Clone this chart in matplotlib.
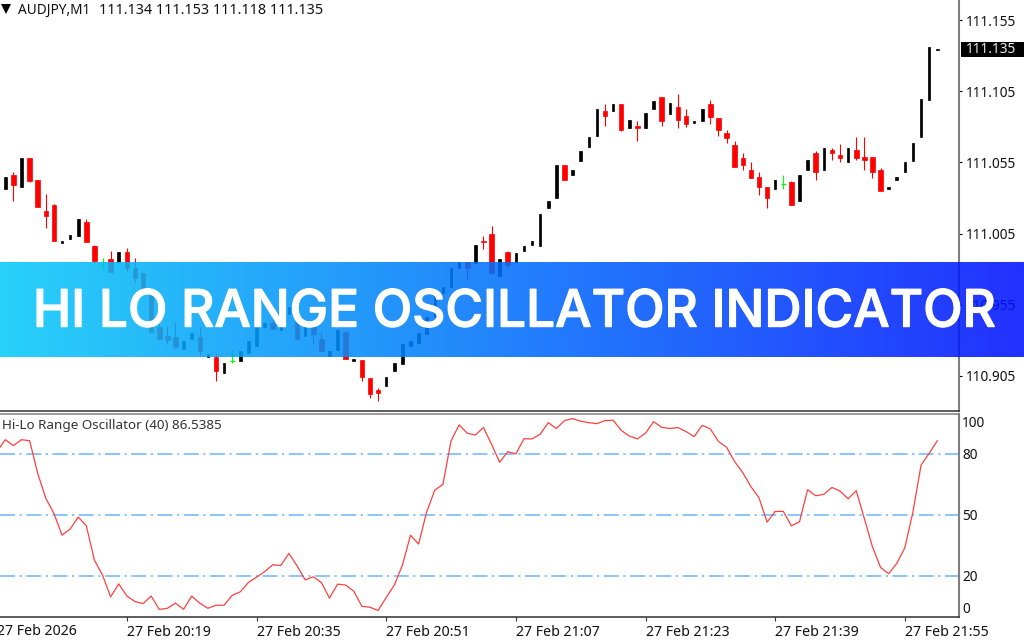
import numpy as np
import matplotlib
matplotlib.use("Agg")
import matplotlib.pyplot as plt
from matplotlib.patches import Rectangle
import matplotlib.patheffects as pe

W, H = 1024, 640
plt.rcParams['font.family'] = ['Noto Sans', 'DejaVu Sans']

# candles (AUDJPY M1)
opens = [
    111.036, 111.046, 111.038, 111.058, 111.043, 111.021, 111.025, 110.998, 111.001, 111.003,
    111.013, 110.996, 110.983, 110.987, 110.985, 110.992, 110.981, 110.977, 110.965, 110.939,
    110.933, 110.932, 110.924, 110.931, 110.932, 110.918, 110.918, 110.907, 110.915, 110.915,
    110.921, 110.926, 110.939, 110.942, 110.937, 110.948, 110.948, 110.933, 110.939, 110.931,
    110.919, 110.923, 110.936, 110.915, 110.916, 110.903, 110.895, 110.898, 110.908, 110.913,
    110.926, 110.928, 110.934, 110.946, 110.963, 110.967, 110.981, 110.985, 110.984, 111.000,
    111.005, 110.975, 110.992, 110.985, 110.993, 110.997, 110.996, 111.023, 111.030, 111.053,
    111.046, 111.056, 111.066, 111.074, 111.091, 111.091, 111.096, 111.079, 111.081, 111.079,
    111.093, 111.101, 111.089, 111.094, 111.088, 111.083, 111.084, 111.096, 111.086, 111.076,
    111.067, 111.058, 111.050, 111.045, 111.038, 111.036, 111.040, 111.041, 111.028, 111.050,
    111.062, 111.050, 111.064, 111.060, 111.055, 111.064, 111.059, 111.059, 111.050, 111.036,
    111.043, 111.048, 111.056, 111.073, 111.099, 111.134,
]
highs = [
    111.045, 111.048, 111.058, 111.058, 111.043, 111.033, 111.026, 111.000, 111.004, 111.015,
    111.015, 110.997, 110.988, 110.993, 110.992, 110.995, 110.988, 110.977, 110.965, 110.942,
    110.940, 110.943, 110.929, 110.935, 110.939, 110.920, 110.920, 110.914, 110.924, 110.922,
    110.929, 110.939, 110.942, 110.949, 110.943, 110.953, 110.949, 110.940, 110.939, 110.936,
    110.922, 110.937, 110.936, 110.917, 110.916, 110.903, 110.896, 110.904, 110.914, 110.927,
    110.929, 110.935, 110.946, 110.964, 110.967, 110.981, 110.985, 110.985, 110.997, 111.003,
    111.010, 110.987, 110.993, 110.991, 110.996, 111.000, 111.019, 111.028, 111.053, 111.053,
    111.050, 111.063, 111.073, 111.093, 111.096, 111.096, 111.096, 111.085, 111.084, 111.090,
    111.098, 111.101, 111.097, 111.103, 111.093, 111.084, 111.093, 111.099, 111.086, 111.078,
    111.070, 111.062, 111.055, 111.048, 111.038, 111.043, 111.046, 111.042, 111.046, 111.057,
    111.063, 111.065, 111.065, 111.068, 111.065, 111.073, 111.073, 111.059, 111.051, 111.038,
    111.045, 111.055, 111.069, 111.100, 111.136, 111.135,
]
lows = [
    111.036, 111.028, 111.038, 111.041, 111.024, 111.009, 111.000, 110.998, 111.001, 111.003,
    110.999, 110.984, 110.979, 110.978, 110.985, 110.978, 110.971, 110.965, 110.936, 110.931,
    110.927, 110.924, 110.924, 110.931, 110.919, 110.918, 110.901, 110.907, 110.914, 110.915,
    110.921, 110.926, 110.939, 110.938, 110.937, 110.948, 110.931, 110.933, 110.927, 110.922,
    110.919, 110.923, 110.917, 110.915, 110.901, 110.889, 110.887, 110.898, 110.908, 110.913,
    110.926, 110.928, 110.934, 110.946, 110.963, 110.967, 110.981, 110.972, 110.984, 110.994,
    110.977, 110.975, 110.981, 110.985, 110.993, 110.997, 110.996, 111.023, 111.030, 111.043,
    111.046, 111.056, 111.066, 111.074, 111.081, 111.091, 111.077, 111.079, 111.070, 111.079,
    111.093, 111.081, 111.089, 111.079, 111.080, 111.083, 111.084, 111.082, 111.074, 111.069,
    111.052, 111.050, 111.044, 111.032, 111.023, 111.036, 111.036, 111.025, 111.028, 111.050,
    111.043, 111.050, 111.057, 111.055, 111.055, 111.057, 111.050, 111.044, 111.035, 111.036,
    111.043, 111.048, 111.056, 111.073, 111.099, 111.134,
]
closes = [
    111.045, 111.039, 111.058, 111.042, 111.024, 111.017, 111.000, 111.000, 111.004, 111.015,
    110.999, 110.986, 110.983, 110.978, 110.992, 110.981, 110.974, 110.965, 110.936, 110.931,
    110.930, 110.925, 110.929, 110.935, 110.922, 110.920, 110.908, 110.914, 110.915, 110.922,
    110.929, 110.939, 110.942, 110.938, 110.943, 110.953, 110.931, 110.940, 110.934, 110.922,
    110.922, 110.937, 110.917, 110.917, 110.904, 110.892, 110.893, 110.904, 110.914, 110.927,
    110.929, 110.935, 110.946, 110.964, 110.967, 110.981, 110.985, 110.981, 110.997, 110.999,
    110.977, 110.987, 110.983, 110.991, 110.996, 111.000, 111.019, 111.028, 111.053, 111.043,
    111.050, 111.063, 111.073, 111.093, 111.088, 111.096, 111.078, 111.085, 111.079, 111.090,
    111.098, 111.084, 111.097, 111.085, 111.082, 111.084, 111.093, 111.087, 111.078, 111.072,
    111.052, 111.053, 111.044, 111.038, 111.030, 111.043, 111.040, 111.025, 111.046, 111.057,
    111.048, 111.065, 111.062, 111.058, 111.065, 111.058, 111.057, 111.048, 111.035, 111.038,
    111.045, 111.055, 111.069, 111.100, 111.136, 111.135,
]

# oscillator, one bar more than the candles because it starts left of the window
osc_values = [
    81.4,
    87.1, 84.2, 87.1, 86.6, 70.5, 58.2, 50.8, 40.1, 43.1, 49.0,
    44.7, 27.8, 20.4, 9.7, 16.1, 10.1, 7.4, 6.4, 10.1, 3.5,
    4.1, 6.6, 3.6, 10.1, 6.6, 4.1, 5.6, 5.6, 10.5, 12.2,
    16.8, 19.4, 22.1, 25.5, 25.2, 31.1, 25.0, 18.1, 19.6, 16.8,
    9.1, 16.0, 15.5, 12.5, 5.1, 4.6, 3.0, 9.4, 15.5, 25.3,
    40.1, 35.7, 51.6, 62.3, 65.1, 86.5, 94.4, 90.3, 89.4, 93.1,
    84.8, 76.0, 81.2, 80.1, 87.6, 87.5, 89.8, 95.5, 92.6, 96.5,
    97.5, 96.2, 95.5, 95.0, 96.5, 96.7, 91.7, 88.9, 87.5, 90.3,
    96.0, 93.2, 92.6, 93.1, 91.1, 88.6, 94.2, 92.4, 86.2, 83.4,
    76.3, 70.9, 64.0, 58.5, 46.5, 51.8, 51.8, 44.7, 46.7, 62.5,
    59.5, 60.2, 63.6, 61.8, 58.0, 62.0, 48.3, 34.4, 24.2, 21.1,
    26.2, 33.9, 51.6, 74.6, 80.4, 86.5385,
]

levels = [20, 50, 80]
price_ticks = [110.905, 110.955, 111.005, 111.055, 111.105, 111.155]
last_price = 111.135
time_ticks = [15, 31, 47, 63, 79, 95, 111]
time_labels = ['27 Feb 20:19', '27 Feb 20:35', '27 Feb 20:51', '27 Feb 21:07',
               '27 Feb 21:23', '27 Feb 21:39', '27 Feb 21:55']
# the scale labels 100 and 0 sit inside the pane, the others on their levels
scale_pos = [95.4, 80, 50, 20, 4.1]
scale_labels = ['100', '80', '50', '20', '0']
chart_title_sym = 'AUDJPY,M1'
chart_title_ohlc = '111.134 111.153 111.118 111.135'
osc_title = 'Hi-Lo Range Oscillator (40) 86.5385'
banner_text = 'HI LO RANGE OSCILLATOR INDICATOR'
banner_stops = [(6, 203, 249), (0, 110, 252), (0, 17, 255)]

TEXT = '#111111'
FS = 9.8


def px_axes(fig, x0, y0, x1, y1):
    # axes box from pixel corners, y counted from the top of the picture
    return fig.add_axes([x0 / W, 1 - y1 / H, (x1 - x0) / W, (y1 - y0) / H])


fig = plt.figure(figsize=(W / 100, H / 100), dpi=100, facecolor='white')
ax = px_axes(fig, 0, 0, 959, 410.5)
ax2 = px_axes(fig, 0, 413.5, 959, 616.6)

x = np.arange(len(opens))
o, h, l, c = map(np.array, (opens, highs, lows, closes))
up = c > o
down = c < o
flat = c == o

ONE_PX = 0.72
wick_colors = np.where(flat, '#00ff00', np.where(down, '#ff0000', '#000000'))
ax.vlines(x, l, h, colors=wick_colors, lw=ONE_PX * 1.1, zorder=2)
# the edge keeps the very short bodies visible, like the terminal draws them
ax.bar(x[down], (o - c)[down], bottom=c[down], width=0.56, color='#ff0000',
       edgecolor='#ff0000', lw=0.5, zorder=3)
ax.bar(x[up], (c - o)[up], bottom=o[up], width=0.32, color='#000000',
       edgecolor='#000000', lw=0.5, zorder=3)
ax.hlines(o[flat], x[flat] - 0.31, x[flat] + 0.31, colors='#00ff00', lw=ONE_PX * 1.2, zorder=3)

ax.set_xlim(-0.654, 117.68)
ax.set_ylim(110.8804, 111.1694)
ax.set_xticks([])
ax.yaxis.tick_right()
ax.set_yticks(price_ticks)
ax.set_yticklabels(['%.3f' % p for p in price_ticks], color=TEXT, fontsize=FS)
ax.tick_params(axis='y', length=2.2, width=0.8, pad=3, color='#000000')

ax.text(18 / 959, 1 - 10.5 / 410.5, chart_title_sym, transform=ax.transAxes, fontsize=FS,
        color=TEXT, va='center', ha='left')
ax.text(99 / 959, 1 - 10.5 / 410.5, chart_title_ohlc, transform=ax.transAxes, fontsize=10.35,
        color=TEXT, va='center', ha='left')
ax.plot([6 / 959], [1 - 9 / 410.5], marker='v', ms=6.5, color='black', mew=0,
        transform=ax.transAxes, clip_on=False)

# last price box on the scale
fig.add_artist(Rectangle((960.5 / W, 1 - 57 / H), 63.5 / W, 15.5 / H, transform=fig.transFigure,
                         facecolor='black', edgecolor='none', zorder=5))
fig.text(966 / W, ax.transData.transform((0, last_price))[1] / H - 0.0005, '%.3f' % last_price,
         color='#eeeeee', fontsize=FS, va='center', ha='left', zorder=6)

for lev in levels:
    ax2.axhline(lev, color='#66b3ff', lw=ONE_PX * 1.5, linestyle=(0, (10, 3, 1.5, 3)), zorder=1)
ax2.plot(np.arange(-1, len(osc_values) - 1), osc_values, color='#ff4040', lw=ONE_PX * 1.25, zorder=2)

ax2.set_xlim(ax.get_xlim())
ax2.set_ylim(0, 100)
ax2.set_yticks([])
ax2.set_xticks(time_ticks)
ax2.set_xticklabels(time_labels, ha='left', fontsize=10.2, color=TEXT)
ax2.tick_params(axis='x', length=2.8, width=0.8, pad=3, color='#333333')

ax2.text(2 / 959, 1 - 11.5 / 203.1, osc_title, transform=ax2.transAxes, fontsize=9.7,
         color='#333333', va='center', ha='left')
ax2.annotate('27 Feb 2026', xy=(-1.0, 0), xycoords=('data', 'axes fraction'), xytext=(0, -10.6),
             textcoords='offset points', fontsize=10.2, color=TEXT, va='center', ha='left',
             annotation_clip=False)
for pos, lab in zip(scale_pos, scale_labels):
    ax2.annotate(lab, xy=(1, pos), xycoords=('axes fraction', 'data'), xytext=(2.2, -0.8),
                 textcoords='offset points', fontsize=FS, color=TEXT, va='center', ha='left',
                 annotation_clip=False)

for a in (ax, ax2):
    a.set_facecolor('white')
    a.spines['left'].set_visible(False)
    a.spines['top'].set_visible(False)
    a.spines['right'].set_color('#808080')
    a.spines['right'].set_linewidth(1.5)
    a.spines['bottom'].set_color('#303030')
    a.spines['bottom'].set_linewidth(1.1)
ax2.spines['top'].set_visible(True)
ax2.spines['top'].set_color('#808080')
ax2.spines['top'].set_linewidth(1.1)

# banner over everything, slightly see-through
band = px_axes(fig, 0, 262, W, 357.5)
band.set_zorder(10)
band.axis('off')
stops = np.array(banner_stops) / 255
t = np.linspace(0, 1, W)
grad = np.stack([np.interp(t, [0, 0.5, 1], stops[:, k]) for k in range(3)], axis=-1)[None, :, :]
band.imshow(grad, aspect='auto', alpha=0.87, extent=(0, W, 0, 1), interpolation='bilinear')
band.text(514.5, 0.465, banner_text, color='white', fontsize=37, fontfamily='Inter', fontweight='medium',
          ha='center', va='center',
          path_effects=[pe.withStroke(linewidth=0.9, foreground='white')])

fig.savefig('out.png', dpi=100, facecolor='white')
